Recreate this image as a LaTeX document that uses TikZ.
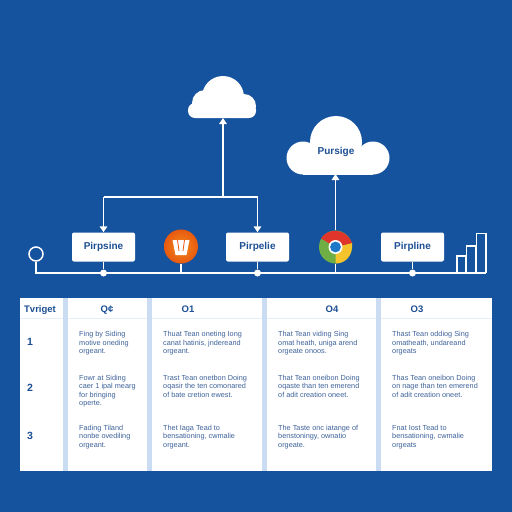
\documentclass[tikz,border=0pt]{standalone}
\usepackage{fontspec}
\setmainfont{Liberation Sans}
\usetikzlibrary{arrows.meta}
\definecolor{bgblue}{HTML}{16539F}
\definecolor{inkblue}{HTML}{1C4F93}
\definecolor{cellink}{HTML}{3D6299}
\definecolor{sepblue}{HTML}{C9DCF1}
\definecolor{rulegrey}{HTML}{E6EEF7}
\definecolor{chromered}{HTML}{E0352B}
\definecolor{chromegreen}{HTML}{6FAE45}
\definecolor{chromeyellow}{HTML}{F5C32C}
\definecolor{chromeblue}{HTML}{1F78C8}
\definecolor{orangein}{HTML}{F28A1E}
\definecolor{orangeout}{HTML}{E8590F}
\tikzset{
  pipebox/.style={draw=none,fill=white,rounded corners=2pt,minimum width=63pt,minimum height=29pt,inner sep=0pt,text=inkblue,font=\fontsize{10}{12}\selectfont\bfseries},
  wire/.style={draw=white,line width=1.5pt},
  flow/.style={wire,-{Triangle[length=6pt,width=7.5pt]}},
  dot/.style={circle,fill=white,minimum size=7pt,inner sep=0pt},
  head/.style={text=inkblue,font=\fontsize{9.5}{11}\selectfont\bfseries,inner sep=0pt,anchor=base},
  rownum/.style={text=inkblue,font=\fontsize{10.5}{12}\selectfont\bfseries,inner sep=0pt},
  cell/.style={text=cellink,font=\fontsize{7.3}{8.5}\selectfont,anchor=north west,align=left,inner sep=0pt},
  sep/.style={fill=sepblue,draw=none},
  bar/.style={draw=white,line width=1.3pt}
}
\begin{document}
\begin{tikzpicture}[x=1pt,y=-1pt]
\useasboundingbox (0,0) rectangle (512,512);
\fill[bgblue] (0,0) rectangle (512,512);

% clouds
\fill[white] (223,97) circle (21);
\fill[white] (205,103) circle (13);
\fill[white] (244,106) circle (12);
\fill[white,rounded corners=7pt] (188,103) rectangle (256,118);
\fill[white] (336,142) circle (26);
\fill[white] (303,158) circle (16.5);
\fill[white] (373,158) circle (16.5);
\fill[white] (303,150) rectangle (373,174.5);
\node[coordinate] (cloudA) at (223,118) {};
\node[coordinate] (cloudB) at (335.5,174) {};
\node[text=inkblue,font=\fontsize{10}{12}\selectfont\bfseries,inner sep=0pt] (cloudBtxt) at (336,152) {Pursige};

% boxes
\node[pipebox] (p1) at (103.5,247) {Pirpsine};
\node[pipebox] (p2) at (257.5,247) {Pirpelie};
\node[pipebox] (p3) at (412.5,247) {Pirpline};

% base line and markers
\node[circle,draw=white,line width=1.5pt,minimum size=14pt,inner sep=0pt] (start) at (36,254) {};
\node[coordinate] (corner) at (36,273) {};
\node[coordinate] (lineend) at (486,273) {};
\node[dot] (d1) at (103.5,273) {};
\node[dot] (d2) at (257.5,273) {};
\node[dot] (d3) at (412.5,273) {};
\draw[wire] (start) -- (corner) -- (lineend);
\draw[wire] (p1) -- (d1);
\draw[wire] (p2) -- (d2);
\draw[wire] (p3) -- (d3);

% orange icon
\node[circle,inner color=orangein,outer color=orangeout,minimum size=34pt,inner sep=0pt] (orangeicon) at (181,246.5) {};
\node[coordinate] (orangefoot) at (181,273) {};
\draw[wire] (orangeicon) -- (orangefoot);
\fill[white] (172.5,240) -- (189.5,240) -- (186.5,255) -- (175.5,255) -- cycle;
\draw[orangeout,line width=0.8pt] (177.5,240) -- (179,251) (184.5,240) -- (183,251);

% chrome icon
\node[circle,minimum size=33pt,inner sep=0pt] (chrome) at (335.5,247) {};
\fill[chromegreen] (335.5,247) circle (16.5);
\fill[chromeyellow] (335.5,247) -- (352,243) .. controls (353,255) and (346,263.5) .. (335.5,263.5) -- cycle;
\fill[chromered] (335.5,247) -- (321,238.5) .. controls (327,228) and (346,227) .. (352,243) -- cycle;
\fill[white] (335.5,247) circle (7);
\fill[chromeblue] (335.5,247) circle (5.4);
\node[coordinate] (chromefoot) at (335.5,273) {};
\draw[wire] (chrome) -- (chromefoot);

% arrows
\node[coordinate] (split) at (223,197) {};
\node[coordinate] (splitL) at (103.5,197) {};
\node[coordinate] (splitR) at (257.5,197) {};
\draw[wire] (splitL) -- (splitR);
\draw[flow] (split) -- (cloudA);
\draw[flow] (splitL) -- (p1.north);
\draw[flow] (splitR) -- (p2.north);
\draw[flow] (chrome.north) -- (cloudB);

% bars
\draw[bar] (457,273) -- (457,256) -- (465.5,256) -- (465.5,273);
\draw[bar] (466.5,273) -- (466.5,246) -- (475.5,246) -- (475.5,273);
\draw[bar] (476.5,273) -- (476.5,233.5) -- (486,233.5) -- (486,273);

% table
\fill[white] (20,298) rectangle (492,470.5);
\fill[rulegrey] (20,317.5) rectangle (492,318.5);
\fill[sep] (63,298) rectangle (68,470.5);
\fill[sep] (147,298) rectangle (152,470.5);
\fill[sep] (262,298) rectangle (267,470.5);
\fill[sep] (376,298) rectangle (381,470.5);

\node[head] (h0) at (40,312) {Tvriget};
\node[head] (h1) at (107,312) {Q¢};
\node[head] (h2) at (188,312) {O1};
\node[head] (h3) at (332,312) {O4};
\node[head] (h4) at (417,312) {O3};
\node[rownum] (r1) at (30,342) {1};
\node[rownum] (r2) at (30,388) {2};
\node[rownum] (r3) at (30,436) {3};

\node[cell] (c11) at (79,331.5) {Fing by Siding\\motive oneding\\orgeant.};
\node[cell] (c12) at (163,331.5) {Thuat Tean oneting Iong\\canat hatinis, jndereand\\orgeant.};
\node[cell] (c13) at (278,331.5) {That Tean viding Sing\\omat heath, uniga arend\\orgeate onoos.};
\node[cell] (c14) at (392,331.5) {Thast Tean oddiog Sing\\omatheath, undareand\\orgeats};
\node[cell] (c21) at (79,375) {Fowr at Siding\\caer 1 ipal mearg\\for bringing\\operte.};
\node[cell] (c22) at (163,375) {Trast Tean onetbon Doing\\oqasir the ten comonared\\of bate cretion ewest.};
\node[cell] (c23) at (278,375) {That Tean oneibon Doing\\oqaste than ten emerend\\of adit creation oneet.};
\node[cell] (c24) at (392,375) {Thas Tean oneibon Doing\\on nage than ten emerend\\of adit creation oneet.};
\node[cell] (c31) at (79,425) {Fading Tiland\\nonbe ovediling\\orgeant.};
\node[cell] (c32) at (163,425) {Thet Iaga Tead to\\bensationing, cwmalie\\orgeant.};
\node[cell] (c33) at (278,425) {The Taste onc iatange of\\benstoningy, ownatio\\orgeate.};
\node[cell] (c34) at (392,425) {Fnat Iost Tead to\\bensationing, cwmalie\\orgeats};
\end{tikzpicture}
\end{document}
